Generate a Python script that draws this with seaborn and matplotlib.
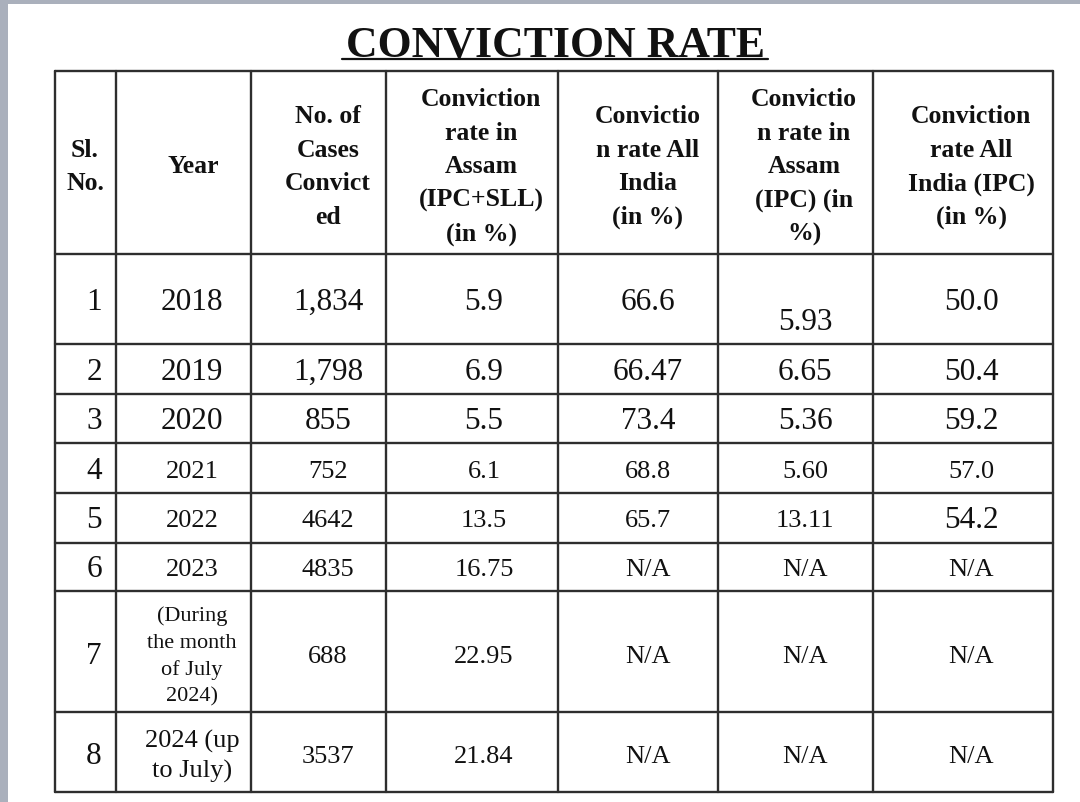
import pandas as pd
import matplotlib.pyplot as plt
import seaborn as sns
from matplotlib.patches import Rectangle

# table data
sl_no = ['1', '2', '3', '4', '5', '6', '7', '8']
years = ['2018', '2019', '2020', '2021', '2022', '2023',
         '(During\nthe month\nof July\n2024)', '2024 (up\nto July)']
cases = ['1,834', '1,798', '855', '752', '4642', '4835', '688', '3537']
rate_assam = ['5.9', '6.9', '5.5', '6.1', '13.5', '16.75', '22.95', '21.84']
rate_india = ['66.6', '66.47', '73.4', '68.8', '65.7', 'N/A', 'N/A', 'N/A']
rate_assam_ipc = ['5.93', '6.65', '5.36', '5.60', '13.11', 'N/A', 'N/A', 'N/A']
rate_india_ipc = ['50.0', '50.4', '59.2', '57.0', '54.2', 'N/A', 'N/A', 'N/A']
headers = ['Sl.\nNo.', 'Year', 'No. of\nCases\nConvict\ned',
           'Conviction\nrate in\nAssam\n(IPC+SLL)\n(in %)',
           'Convictio\nn rate All\nIndia\n(in %)',
           'Convictio\nn rate in\nAssam\n(IPC) (in\n%)',
           'Conviction\nrate All\nIndia (IPC)\n(in %)']
title = 'CONVICTION RATE'

df = pd.DataFrame({
    headers[0]: sl_no, headers[1]: years, headers[2]: cases,
    headers[3]: rate_assam, headers[4]: rate_india,
    headers[5]: rate_assam_ipc, headers[6]: rate_india_ipc,
})

sns.set_theme(style='white')
plt.rcParams['font.family'] = ['Liberation Serif', 'DejaVu Serif']

# layout in pixels
col_edges = [55, 116, 251, 386, 558, 718, 873, 1053]
row_edges = [72, 255, 345, 395, 444, 494, 544, 592, 713, 793]
text_x = [94, 192, 328, 484, 648, 805, 971]
head_x = [85, 193, 328, 481, 648, 804, 971]
row_y = [300, 370, 419, 469, 518, 567, 654, 754]

# which cells use the bigger font (row, col)
big = {(r, c) for r in range(3) for c in range(7)}
big |= {(r, 0) for r in range(8)}
big.add((4, 6))
nudge = {(0, 5): 20}
line_gap = {(6, 1): 27, (7, 1): 30}
size_over = {(6, 1): 16, (7, 1): 19}

fig = plt.figure(figsize=(10.8, 8.03), dpi=100)
ax = fig.add_axes([0, 0, 1, 1])
ax.set_xlim(0, 1080)
ax.set_ylim(803, 0)
ax.axis('off')

ax.add_patch(Rectangle((0, 0), 1080, 5, color='#aab0bc', lw=0))
ax.add_patch(Rectangle((0, 0), 8, 803, color='#aab0bc', lw=0))


def put(x, yc, text, size, bold=False, gap=33.5):
    lines = text.split('\n')
    n = len(lines)
    px = size * 100 / 72
    for i, line in enumerate(lines):
        y = yc + (i - (n - 1) / 2) * gap
        ax.text(x, y + px * 0.33, line, ha='center', va='baseline',
                fontsize=size, fontweight='bold' if bold else 'normal',
                color='#111111')


# title
ax.text(555, 57, title, ha='center', va='baseline', fontsize=31.5,
        fontweight='bold', color='#111111')
ax.plot([342, 768], [60, 60], color='#111111', lw=1.6)

# grid
for x in col_edges:
    ax.plot([x, x], [row_edges[0], row_edges[-1]], color='#2e2e2e', lw=1.7)
for y in row_edges:
    ax.plot([col_edges[0], col_edges[-1]], [y, y], color='#2e2e2e', lw=1.7)

# header
for c, h in enumerate(df.columns):
    put(head_x[c], 165, h, 18.5, bold=True)

# body
for r in range(len(df)):
    for c in range(df.shape[1]):
        size = size_over.get((r, c), 22.5 if (r, c) in big else 19)
        put(text_x[c], row_y[r] + nudge.get((r, c), 0), df.iat[r, c], size,
            gap=line_gap.get((r, c), 33.5))

fig.savefig('out.png', dpi=100, facecolor='white')
